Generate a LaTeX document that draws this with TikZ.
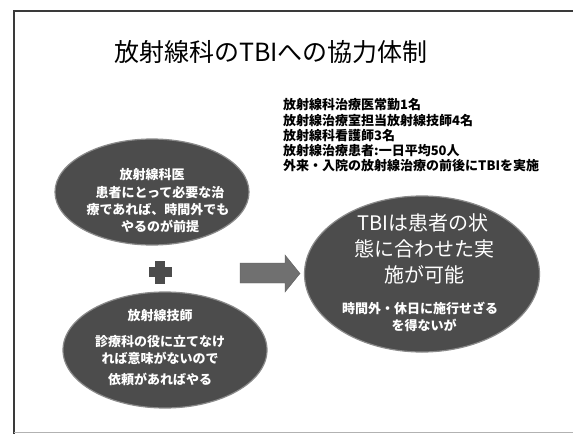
\documentclass[tikz,border=0pt]{standalone}
\usepackage{fontspec}
\usetikzlibrary{shapes.geometric}
\newfontfamily\jp{Noto Sans CJK JP}
\definecolor{blobfill}{HTML}{4C4C4C}
\definecolor{blobedge}{HTML}{8A8A8A}
\definecolor{arrowfill}{HTML}{707070}
\definecolor{framecol}{HTML}{3A3A3A}
\tikzset{
  blob/.style={ellipse, fill=blobfill, draw=blobedge, line width=1.2pt, inner sep=0pt},
  wtxt/.style={text=white, font=\jp\bfseries\fontsize{13}{15}\selectfont, inner sep=0pt, anchor=center},
  bigtxt/.style={text=white, font=\jp\fontsize{20}{24}\selectfont, inner sep=0pt, anchor=center},
  listtxt/.style={text=black, font=\jp\bfseries\fontsize{13}{15}\selectfont, inner sep=0pt, anchor=west},
}
\begin{document}
\begin{tikzpicture}[x=1pt,y=-1pt]
\useasboundingbox (0,0) rectangle (573,434);
\fill[white] (0,0) rectangle (573,434);
% frame
\draw[framecol, line width=2.6pt] (573,11) -- (14,11) -- (14,434);
\draw[gray!60, line width=1pt] (14,432.5) -- (573,432.5);
% title
\node[font=\jp\fontsize{25}{30}\selectfont, inner sep=0pt] (title) at (271,52) {放射線科のTBIへの協力体制};
% list
\node[listtxt] (l1) at (283,105) {放射線科治療医常勤1名};
\node[listtxt] (l2) at (283,121) {放射線治療室担当放射線技師4名};
\node[listtxt] (l3) at (283,136) {放射線科看護師3名};
\node[listtxt] (l4) at (283,151) {放射線治療患者:一日平均50人};
\node[listtxt] (l5) at (283,166) {外来・入院の放射線治療の前後にTBIを実施};
% top-left ellipse
\node[blob, minimum width=194pt, minimum height=106pt] (doc) at (152,192) {};
\node[wtxt] (doct) at (152,175) {放射線科医};
\node[wtxt] (doc1) at (160,193) {患者にとって必要な治};
\node[wtxt] (doc2) at (158,210) {療であれば、時間外でも};
\node[wtxt] (doc3) at (160,226) {やるのが前提};
% plus
\fill[blobfill] (148.5,267) rectangle (171.5,277);
\fill[blobfill] (155,260.5) rectangle (165,283.5);
\coordinate (plus) at (160,272);
% bottom-left ellipse
\node[blob, minimum width=204pt, minimum height=116pt] (tech) at (165,350) {};
\node[wtxt] (techt) at (160,316) {放射線技師};
\node[wtxt] (tech1) at (160,342) {診療科の役に立てなけ};
\node[wtxt] (tech2) at (160,358) {れば意味がないので};
\node[wtxt] (tech3) at (160,379) {依頼があればやる};
% arrow (block arrow)
\fill[arrowfill, draw=arrowfill!85!black, line width=0.4pt]
  (240,263) -- (285,263) -- (285,255) -- (300,273.5) -- (285,292) -- (285,283) -- (240,283) -- cycle;
% big ellipse
\node[blob, minimum width=235pt, minimum height=156pt] (tbi) at (422,274) {};
\node[bigtxt] (tbi1) at (423,223) {TBIは患者の状};
\node[bigtxt] (tbi2) at (424,249) {態に合わせた実};
\node[bigtxt] (tbi3) at (424,275) {施が可能};
\node[wtxt] (tbi4) at (420,308) {時間外・休日に施行せざる};
\node[wtxt] (tbi5) at (424,325) {を得ないが};
\end{tikzpicture}
\end{document}
